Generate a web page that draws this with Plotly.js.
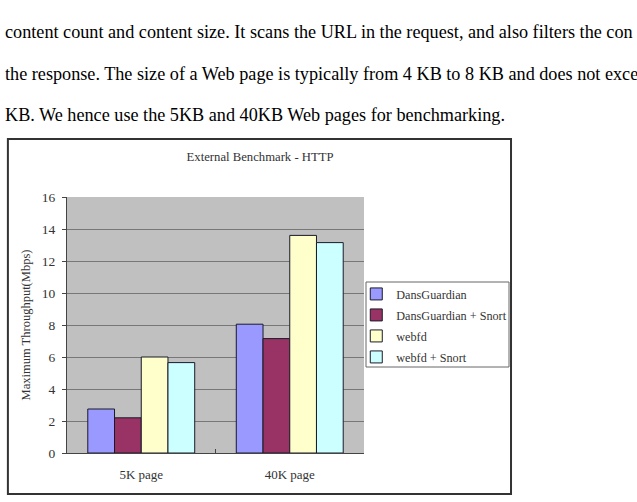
<!DOCTYPE html>
<html>
<head>
<meta charset="utf-8">
<script src="https://cdn.plot.ly/plotly-3.0.1.min.js"></script>
<style>html,body{margin:0;padding:0;background:#fff;}#chart{width:637px;height:502px;}</style>
</head>
<body>
<div id="chart"></div>
<script>
const categories = ["5K page", "40K page"];
const seriesNames = ["DansGuardian", "DansGuardian + Snort", "webfd", "webfd + Snort"];
const dansGuardian = [2.75, 8.05];
const dansGuardianSnort = [2.2, 7.15];
const webfd = [6.0, 13.6];
const webfdSnort = [5.65, 13.15];
const yTicks = [0, 2, 4, 6, 8, 10, 12, 14, 16];
const bodyLines = [
  "content count and content size. It scans the URL in the request, and also filters the con",
  "the response. The size of a Web page is typically from 4 KB to 8 KB and does not exce",
  "KB. We hence use the 5KB and 40KB Web pages for benchmarking."
];

const colors = ["#9999ff", "#993366", "#ffffcc", "#ccffff"];
const values = [dansGuardian, dansGuardianSnort, webfd, webfdSnort];
const serif = "Liberation Serif, Times New Roman, serif";

const traces = values.map((v, i) => ({
  type: "bar",
  name: seriesNames[i],
  legendgroup: "g" + i,
  x: categories,
  y: v,
  marker: {color: colors[i], line: {color: "#1a1a2a", width: 1}}
}));

const lineY = [1.645, 1.48, 1.322];
const annotations = bodyLines.map((t, i) => ({
  text: t, xref: "paper", yref: "paper", x: -0.2155, y: lineY[i],
  xanchor: "left", yanchor: "middle", showarrow: false,
  font: {family: serif, size: 18.2, color: "#000"}
}));

const layout = {
  width: 637, height: 502,
  margin: {l: 67, r: 273, t: 197, b: 49},
  paper_bgcolor: "#ffffff",
  plot_bgcolor: "#c0c0c0",
  font: {family: serif, size: 13, color: "#333"},
  title: {text: "External Benchmark - HTTP", xref: "paper", x: 0.65, xanchor: "center",
          yref: "container", y: 1 - 157/502, yanchor: "middle",
          font: {family: serif, size: 12.7, color: "#333"}},
  barmode: "group",
  bargap: 0.28,
  bargroupgap: 0,
  showlegend: true,
  legend: {x: 0.974, y: 0.678, xanchor: "left", yanchor: "top",
           bgcolor: "rgba(0,0,0,0)", borderwidth: 0, itemwidth: 30,
           font: {family: serif, size: 12.2, color: "#333"}, tracegroupgap: 2},
  xaxis: {type: "category", showgrid: false, showline: true, linecolor: "#444", linewidth: 1,
          ticks: "inside", tickson: "boundaries", ticklen: 4, tickcolor: "#444",
          ticklabelstandoff: 9,
          mirror: false, tickfont: {family: serif, size: 13, color: "#333"}},
  yaxis: {range: [0, 16], tickvals: yTicks, showgrid: true, gridcolor: "#777", gridwidth: 1,
          showline: true, linecolor: "#444", linewidth: 1, ticks: "outside", ticklen: 4,
          tickcolor: "#444", zeroline: false, ticklabelstandoff: 4,
          tickfont: {family: serif, size: 13.5, color: "#333"},
          title: {text: "Maximum Throughput(Mbps)", standoff: 8,
                  font: {family: serif, size: 12.5, color: "#333"}}},
  annotations: annotations,
  shapes: [
    {type: "rect", xref: "paper", yref: "paper", x0: -0.199, x1: 1.495, y0: -0.160, y1: 1.227,
     line: {color: "#333", width: 2}, fillcolor: "rgba(0,0,0,0)", layer: "below"},
    {type: "rect", xref: "paper", yref: "paper", x0: (366 - 67) / 297, x1: (509 - 67) / 297,
     y0: (453 - 367) / 256, y1: (453 - 282) / 256,
     line: {color: "#666", width: 1}, fillcolor: "rgba(0,0,0,0)", layer: "below"}
  ]
};

Plotly.newPlot("chart", traces, layout, {displayModeBar: false, staticPlot: true});
</script>
</body>
</html>
